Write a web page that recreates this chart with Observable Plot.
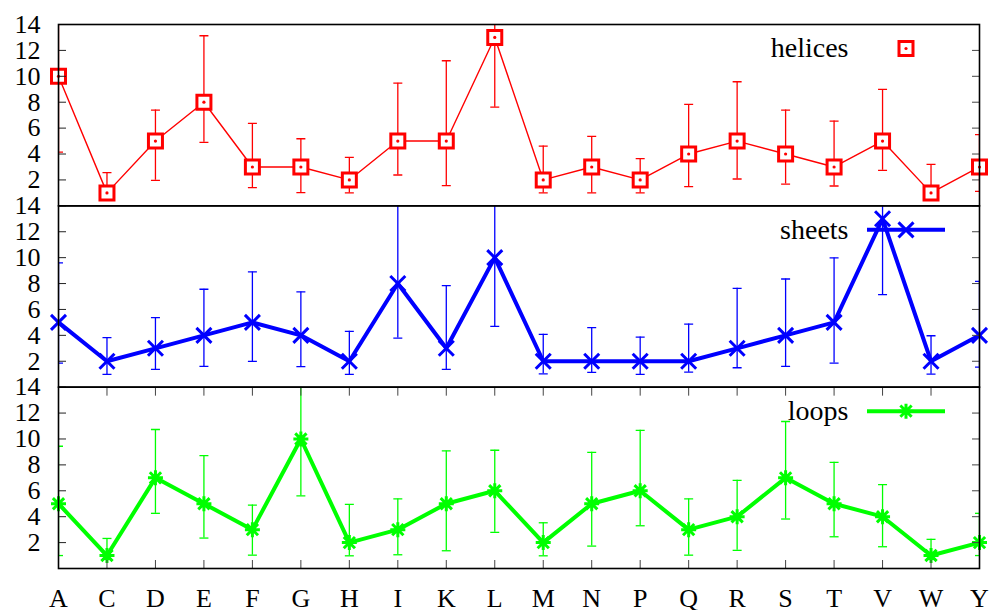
<!DOCTYPE html>
<html>
<head>
<meta charset="utf-8">
<script src="https://cdn.jsdelivr.net/npm/d3@7"></script>
<script src="https://cdn.jsdelivr.net/npm/@observablehq/plot@0.6"></script>
<style>
  html, body { margin: 0; padding: 0; background: #fff; }
  #chart svg, #chart svg text { font-family: "Liberation Serif", "Times New Roman", serif !important; }
</style>
</head>
<body>
<div id="chart"></div>
<script>
// ---- data ----
const categories = ["A","C","D","E","F","G","H","I","K","L","M","N","P","Q","R","S","T","V","W","Y"];
const seriesNames = ["helices", "sheets", "loops"];

const helices   = [10, 1, 5, 8, 3, 3, 2, 5, 5, 13, 2, 3, 2, 4, 5, 4, 3, 5, 1, 3];
const helicesLo = [4.15, 1.0, 1.97, 4.9, 1.4, 1.02, 1.0, 2.38, 1.56, 7.62, 1.0, 1.0, 1.0, 1.48, 2.07, 1.68, 1.53, 2.74, 1.0, 1.12];
const helicesHi = [15.9, 2.56, 7.39, 13.13, 6.36, 5.18, 3.74, 9.47, 11.2, 14.5, 4.61, 5.36, 3.64, 7.83, 9.58, 7.39, 6.54, 8.99, 3.2, 5.49];

const sheets   = [5, 2, 3, 4, 5, 4, 2, 8, 3, 10, 2, 2, 2, 2, 3, 4, 5, 13, 2, 4];
const sheetsLo = [1.86, 0.98, 1.37, 1.6, 1.99, 1.58, 0.98, 3.79, 1.37, 4.69, 1.03, 1.14, 0.98, 1.16, 1.5, 1.6, 1.86, 7.14, 1.0, 1.55];
const sheetsHi = [9.59, 3.82, 5.37, 7.56, 8.9, 7.35, 4.31, 14.5, 7.84, 14.5, 4.08, 4.59, 3.87, 4.87, 7.63, 8.35, 9.98, 14.5, 3.97, 8.17];

const loops   = [5, 1, 7, 5, 3, 10, 2, 3, 5, 6, 2, 5, 6, 3, 4, 7, 5, 4, 1, 2];
const loopsLo = [1.0, 0.7, 4.26, 2.35, 1.03, 5.6, 0.98, 1.06, 1.37, 2.79, 0.98, 1.73, 3.3, 1.03, 1.4, 3.82, 2.45, 1.68, 0.7, 1.0];
const loopsHi = [9.44, 2.32, 10.73, 8.72, 4.9, 14.6, 4.95, 5.37, 9.08, 9.13, 3.53, 8.97, 10.67, 5.37, 6.81, 11.35, 8.2, 6.47, 2.25, 4.26];

const yTicks = [2, 4, 6, 8, 10, 12, 14];

// ---- build table ----
const seriesData = {
  helices: [helices, helicesLo, helicesHi],
  sheets: [sheets, sheetsLo, sheetsHi],
  loops: [loops, loopsLo, loopsHi]
};
const rows = [];
for (const s of seriesNames) {
  const [v, lo, hi] = seriesData[s];
  categories.forEach((c, i) => rows.push({series: s, aa: c, v: v[i], lo: lo[i], hi: hi[i]}));
}
const colors = {helices: "#ff0000", sheets: "#0000ff", loops: "#00ff00"};
const by = s => rows.filter(d => d.series === s);

// ---- custom symbols (size = pi r^2) ----
const rad = size => Math.sqrt(size / Math.PI);
const squareSym = {draw(ctx, size) { const r = rad(size); ctx.moveTo(-r, -r); ctx.lineTo(r, -r); ctx.lineTo(r, r); ctx.lineTo(-r, r); ctx.closePath(); }};
const crossSym = {draw(ctx, size) { const r = rad(size); ctx.moveTo(-r, -r); ctx.lineTo(r, r); ctx.moveTo(-r, r); ctx.lineTo(r, -r); }};
const starSym = {draw(ctx, size) { const r = rad(size); const q = r * 0.75;
  ctx.moveTo(-q, -q); ctx.lineTo(q, q); ctx.moveTo(-q, q); ctx.lineTo(q, -q);
  ctx.moveTo(0, -r); ctx.lineTo(0, r); ctx.moveTo(-r, 0); ctx.lineTo(r, 0); }};
const hbarSym = {draw(ctx, size) { const r = rad(size); ctx.moveTo(-r, 0); ctx.lineTo(r, 0); }};

const marks = [];
const lineWidths = {helices: 1.4, sheets: 4, loops: 4};
const symbols = {helices: squareSym, sheets: crossSym, loops: starSym};
const symR = {helices: 7, sheets: 7.5, loops: 7.5};

for (const s of seriesNames) {
  const d = by(s);
  const col = colors[s];
  marks.push(
    Plot.ruleX(d, {x: "aa", y1: "lo", y2: "hi", fy: "series", stroke: col, strokeWidth: 1.3, clip: true}),
    Plot.dot(d, {x: "aa", y: "lo", fy: "series", symbol: hbarSym, r: 4.5, stroke: col, strokeWidth: 1.3, clip: true}),
    Plot.dot(d, {x: "aa", y: "hi", fy: "series", symbol: hbarSym, r: 4.5, stroke: col, strokeWidth: 1.3, clip: true}),
    Plot.line(d, {x: "aa", y: "v", fy: "series", stroke: col, strokeWidth: lineWidths[s], strokeLinejoin: "miter"}),
    Plot.dot(d, {x: "aa", y: "v", fy: "series", symbol: symbols[s], r: symR[s], stroke: col, strokeWidth: 3, fill: s === "helices" ? "white" : "none", strokeLinecap: "butt"})
  );
  if (s === "helices") {
    marks.push(Plot.dot(d, {x: "aa", y: "v", fy: "series", r: 1.6, fill: col, stroke: "none"}));
  }

  // legend entry for this series (positioned relative to its panel frame)
  const leg = [{series: s, label: s}];
  marks.push(
    Plot.text(leg, {fy: "series", text: "label", frameAnchor: "top-right", textAnchor: "end", lineAnchor: "middle", dx: -131, dy: 24, fontSize: 28, fill: "black"})
  );
  if (s !== "helices") {
    marks.push(Plot.dot(leg, {fy: "series", frameAnchor: "top-right", dx: -73.5, dy: 24, symbol: hbarSym, r: 39, stroke: col, strokeWidth: 4}));
  }
  marks.push(Plot.dot(leg, {fy: "series", frameAnchor: "top-right", dx: -73.5, dy: 24, symbol: symbols[s], r: symR[s], stroke: col, strokeWidth: 3, fill: s === "helices" ? "white" : "none"}));
  if (s === "helices") {
    marks.push(Plot.dot(leg, {fy: "series", frameAnchor: "top-right", dx: -73.5, dy: 24, r: 1.6, fill: col, stroke: "none"}));
  }
}

// axes (gnuplot style: inward ticks, mirrored on the right / top)
marks.push(
  Plot.axisY({ticks: yTicks, tickSize: -8, tickPadding: 26, label: null, fontSize: 26, fill: "black", stroke: "#222"}),
  Plot.axisY({anchor: "right", ticks: yTicks, tickSize: -8, label: null, fill: "none", stroke: "#444"}),
  Plot.axisX({tickSize: -8, tickPadding: 28, label: null, fontSize: 26, fill: "black", stroke: "#444"}),
  Plot.axisX({anchor: "top", facetAnchor: "bottom", tickSize: -8, label: null, fill: "none", stroke: "#444"}),
  Plot.frame({stroke: "black", strokeWidth: 1.6})
);

const chart = Plot.plot({
  width: 989,
  height: 610,
  marginLeft: 58,
  marginRight: 10,
  marginTop: 24,
  marginBottom: 42,
  style: {fontFamily: "Liberation Serif", fontSize: "26px", background: "white", color: "black"},
  x: {type: "point", domain: categories, padding: 0, round: false, axis: null},
  y: {domain: [0, 14], axis: null},
  fy: {domain: seriesNames, padding: 0, round: false, axis: null},
  marks
});
document.getElementById("chart").appendChild(chart);
</script>
</body>
</html>
